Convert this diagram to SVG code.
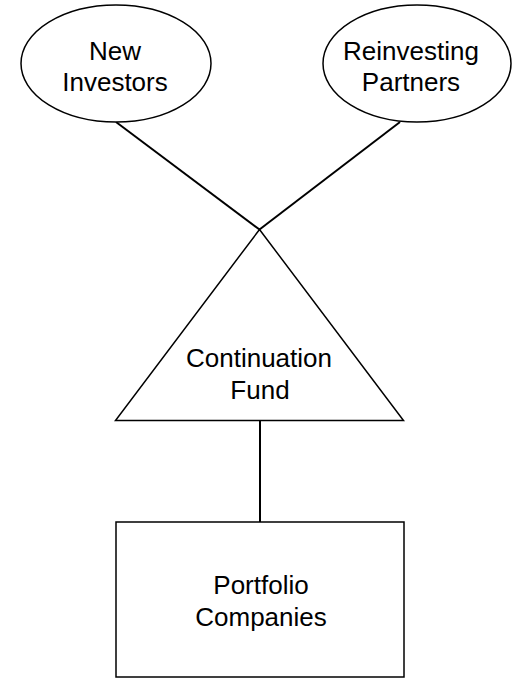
<svg xmlns="http://www.w3.org/2000/svg" width="512" height="678" viewBox="0 0 512 678">
<style>
.shape{fill:#fff;stroke:#000;stroke-width:1.5}
.conn{fill:none;stroke:#000;stroke-width:2}
.lbl{font-family:"Liberation Sans",Arial,sans-serif;font-size:26px;fill:#000;text-anchor:middle}
</style>
<rect width="512" height="678" fill="#fff"/>
<g id="connectors">
<line class="conn" x1="116" y1="122" x2="259.5" y2="229.5"/>
<line class="conn" x1="400" y1="122" x2="259.5" y2="229.5"/>
<line class="conn" x1="260" y1="421" x2="260" y2="522"/>
</g>
<g id="new-investors">
<ellipse class="shape" cx="116" cy="63.5" rx="95" ry="58.5"/>
<text class="lbl" x="115" y="60">New</text>
<text class="lbl" x="115" y="91">Investors</text>
</g>
<g id="reinvesting-partners">
<ellipse class="shape" cx="417" cy="63.5" rx="94" ry="58.5"/>
<text class="lbl" x="411" y="60">Reinvesting</text>
<text class="lbl" x="411" y="91">Partners</text>
</g>
<g id="continuation-fund">
<polygon class="shape" points="259.5,229.5 403.5,420.5 115.5,420.5"/>
<text class="lbl" x="259" y="367">Continuation</text>
<text class="lbl" x="260" y="399">Fund</text>
</g>
<g id="portfolio-companies">
<rect class="shape" x="116" y="522" width="288" height="155"/>
<text class="lbl" x="261" y="594">Portfolio</text>
<text class="lbl" x="261" y="626">Companies</text>
</g>
</svg>
